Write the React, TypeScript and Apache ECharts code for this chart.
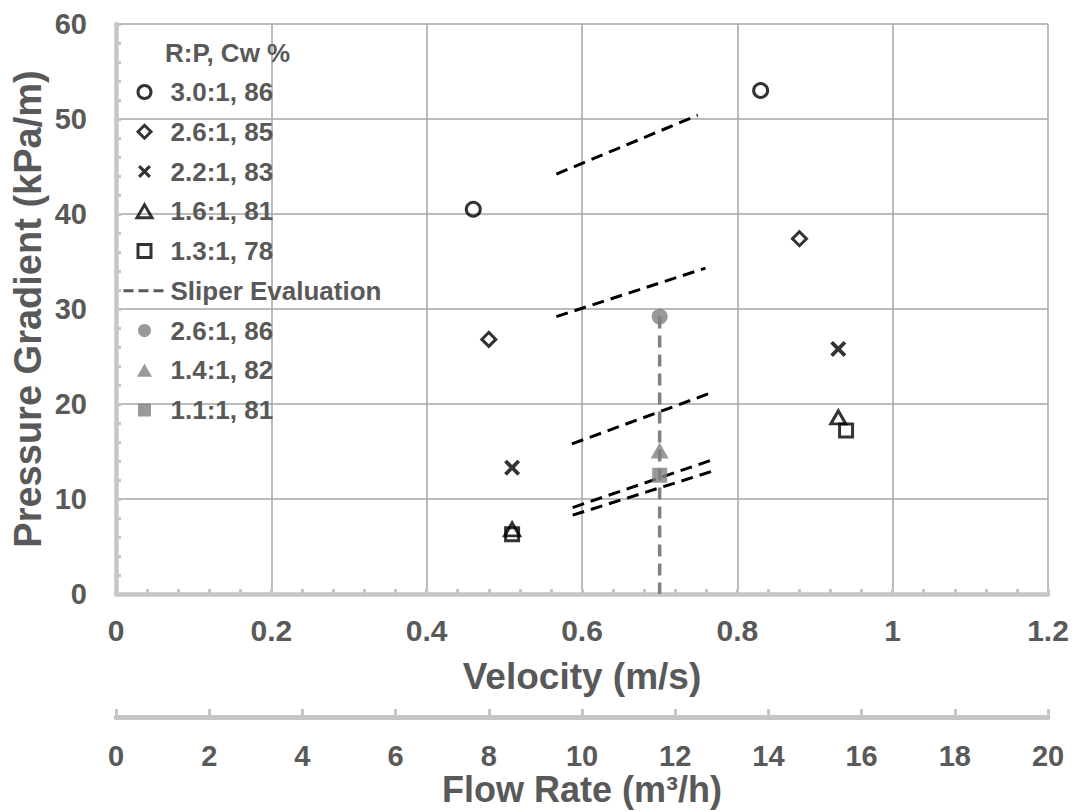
import React, { useEffect, useRef } from 'react';
import * as echarts from 'echarts';

// ---- data ----
const velocityRange = [0, 1.2];
const flowRange = [0, 20];
const pressureRange = [0, 60];

const measuredNames = ['3.0:1, 86', '2.6:1, 85', '2.2:1, 83', '1.6:1, 81', '1.3:1, 78'];
const sliperName = 'Sliper Evaluation';
const grayNames = ['2.6:1, 86', '1.4:1, 82', '1.1:1, 81'];

const data30_86 = [[0.46, 40.5], [0.83, 53.0]];
const data26_85 = [[0.48, 26.8], [0.88, 37.4]];
const data22_83 = [[0.51, 13.3], [0.93, 25.8]];
const data16_81 = [[0.51, 6.8], [0.93, 18.6]];
const data13_78 = [[0.51, 6.3], [0.94, 17.2]];

const sliper1 = [[0.567, 44.2], [0.749, 50.4]];
const sliper2 = [[0.567, 29.2], [0.759, 34.3]];
const sliper3 = [[0.587, 15.8], [0.767, 21.2]];
const sliper4 = [[0.588, 9.1], [0.767, 14.1]];
const sliper5 = [[0.588, 8.3], [0.767, 12.9]];

const data26_86 = [[0.70, 29.2]];
const data14_82 = [[0.70, 15.1]];
const data11_81 = [[0.70, 12.5]];
const dropLine = [[0.70, 29.2], [0.70, 0]];

// ---- styles ----
const FONT = "'Liberation Sans', Arial, sans-serif";
const TXT = '#595959';
const AXIS = '#c6c6c6';
const GRID = '#a6a6a6';
const GRAY = '#808080';

const SYM_TRI = 'path://M5,0L10,8.66L0,8.66Z';
const SYM_DIA = 'path://M5,0L10,5L5,10L0,5Z';
const SYM_SQ = 'path://M0,0L10,0L10,10L0,10Z';
const SYM_X = 'path://M0,1.7L1.7,0L5,3.3L8.3,0L10,1.7L6.7,5L10,8.3L8.3,10L5,6.7L1.7,10L0,8.3L3.3,5Z';

const hollow = { color: 'rgba(255,255,255,0)', borderColor: '#000', borderWidth: 3 };
const grayFill = { color: GRAY, borderWidth: 0 };

export default function App() {
  const ref = useRef<HTMLDivElement>(null);

  useEffect(() => {
    if (!ref.current) return;
    const chart = echarts.init(ref.current, undefined, { renderer: 'svg' });

    const sliperLine = (d: number[][]) => ({
      name: sliperName,
      type: 'line',
      data: d,
      symbol: 'none',
      silent: true,
      z: 2,
      itemStyle: { color: '#000' },
      lineStyle: { color: '#000', width: 3, type: [12, 7] },
    });

    const option: any = {
      animation: false,
      backgroundColor: '#fff',
      textStyle: { fontFamily: FONT },
      title: {
        text: 'R:P, Cw %',
        left: 165,
        top: 38,
        padding: 0,
        textStyle: { fontFamily: FONT, fontSize: 26, fontWeight: 'bold', color: TXT, lineHeight: 30 },
      },
      legend: {
        orient: 'vertical',
        left: 122,
        top: 77,
        padding: 0,
        itemGap: 9.75,
        itemWidth: 42,
        itemHeight: 13,
        selectedMode: false,
        textStyle: { fontFamily: FONT, fontSize: 26, fontWeight: 'bold', color: TXT, lineHeight: 30 },
        data: [
          { name: measuredNames[0], icon: 'circle', itemStyle: hollow },
          { name: measuredNames[1], icon: SYM_DIA, itemStyle: hollow },
          { name: measuredNames[2], icon: SYM_X, itemStyle: { color: '#000', borderWidth: 0 } },
          { name: measuredNames[3], icon: SYM_TRI, itemStyle: hollow },
          { name: measuredNames[4], icon: SYM_SQ, itemStyle: hollow },
          {
            name: sliperName,
            itemStyle: { color: 'rgba(0,0,0,0)', borderColor: 'rgba(0,0,0,0)', borderWidth: 0 },
            lineStyle: { color: TXT, width: 3, type: [10, 5] },
          },
          { name: grayNames[0], icon: 'circle', itemStyle: grayFill },
          { name: grayNames[1], icon: SYM_TRI, itemStyle: grayFill },
          { name: grayNames[2], icon: SYM_SQ, itemStyle: grayFill },
        ],
      },
      grid: { left: 116, right: 29, top: 24, bottom: 218, containLabel: false, outerBoundsMode: 'none' },
      xAxis: [
        {
          type: 'value',
          min: velocityRange[0],
          max: velocityRange[1],
          interval: 0.2,
          position: 'bottom',
          axisLine: { show: true, lineStyle: { color: AXIS, width: 4.5 } },
          axisTick: { show: true, inside: true, length: 5, lineStyle: { color: AXIS, width: 3 } },
          minorTick: { show: true, splitNumber: 5, length: 5, lineStyle: { color: AXIS, width: 3 } },
          splitLine: { show: true, lineStyle: { color: GRID, width: 1.5 } },
          axisLabel: { margin: 21, fontFamily: FONT, fontSize: 30, fontWeight: 'bold', color: TXT },
          name: 'Velocity (m/s)',
          nameLocation: 'middle',
          nameGap: 64,
          nameMoveOverlap: false,
          nameTextStyle: { fontFamily: FONT, fontSize: 37, fontWeight: 'bold', color: TXT },
        },
        {
          type: 'value',
          min: flowRange[0],
          max: flowRange[1],
          interval: 2,
          position: 'bottom',
          offset: 123,
          axisLine: { show: true, lineStyle: { color: AXIS, width: 5 } },
          axisTick: { show: true, inside: true, length: 8, lineStyle: { color: AXIS, width: 3 } },
          splitLine: { show: false },
          axisLabel: { margin: 24, fontFamily: FONT, fontSize: 29, fontWeight: 'bold', color: TXT },
          name: 'Flow Rate (m³/h)',
          nameLocation: 'middle',
          nameGap: 53,
          nameMoveOverlap: false,
          nameTextStyle: { fontFamily: FONT, fontSize: 36, lineHeight: 38, fontWeight: 'bold', color: TXT },
        },
      ],
      yAxis: {
        type: 'value',
        min: pressureRange[0],
        max: pressureRange[1],
        interval: 10,
        axisLine: { show: true, lineStyle: { color: AXIS, width: 4.5 } },
        axisTick: { show: true, inside: true, length: 5, lineStyle: { color: AXIS, width: 3 } },
        minorTick: { show: true, splitNumber: 5, length: 5, lineStyle: { color: AXIS, width: 3 } },
        splitLine: { show: true, lineStyle: { color: GRID, width: 1.5 } },
        axisLabel: { margin: 29, fontFamily: FONT, fontSize: 29, fontWeight: 'bold', color: TXT },
        name: 'Pressure Gradient (kPa/m)',
        nameLocation: 'middle',
        nameGap: 69,
        nameMoveOverlap: false,
        nameTextStyle: { fontFamily: FONT, fontSize: 38, fontWeight: 'bold', color: TXT },
      },
      series: [
        sliperLine(sliper1),
        sliperLine(sliper2),
        sliperLine(sliper3),
        sliperLine(sliper4),
        sliperLine(sliper5),
        {
          name: 'drop-line',
          type: 'line',
          data: dropLine,
          symbol: 'none',
          silent: true,
          z: 3,
          lineStyle: { color: GRAY, width: 3.5, type: [12, 7] },
        },
        { name: measuredNames[0], type: 'scatter', data: data30_86, symbol: 'circle', symbolSize: 14, itemStyle: hollow, z: 5 },
        { name: measuredNames[1], type: 'scatter', data: data26_85, symbol: SYM_DIA, symbolSize: 14, itemStyle: hollow, z: 5 },
        { name: measuredNames[2], type: 'scatter', data: data22_83, symbol: SYM_X, symbolSize: 16, itemStyle: { color: '#000', borderWidth: 0 }, z: 5 },
        { name: measuredNames[3], type: 'scatter', data: data16_81, symbol: SYM_TRI, symbolSize: [15, 13], itemStyle: hollow, z: 5 },
        { name: measuredNames[4], type: 'scatter', data: data13_78, symbol: SYM_SQ, symbolSize: 13, itemStyle: hollow, z: 5 },
        { name: grayNames[0], type: 'scatter', data: data26_86, symbol: 'circle', symbolSize: 16, itemStyle: grayFill, z: 6 },
        { name: grayNames[1], type: 'scatter', data: data14_82, symbol: SYM_TRI, symbolSize: [18, 16], itemStyle: grayFill, z: 6 },
        { name: grayNames[2], type: 'scatter', data: data11_81, symbol: SYM_SQ, symbolSize: 15, itemStyle: grayFill, z: 6 },
      ],
    };

    chart.setOption(option);
    return () => chart.dispose();
  }, []);

  return (
    <div
      ref={ref}
      style={{ position: 'fixed', left: 0, top: 0, width: 1077, height: 812, background: '#fff' }}
    />
  );
}
